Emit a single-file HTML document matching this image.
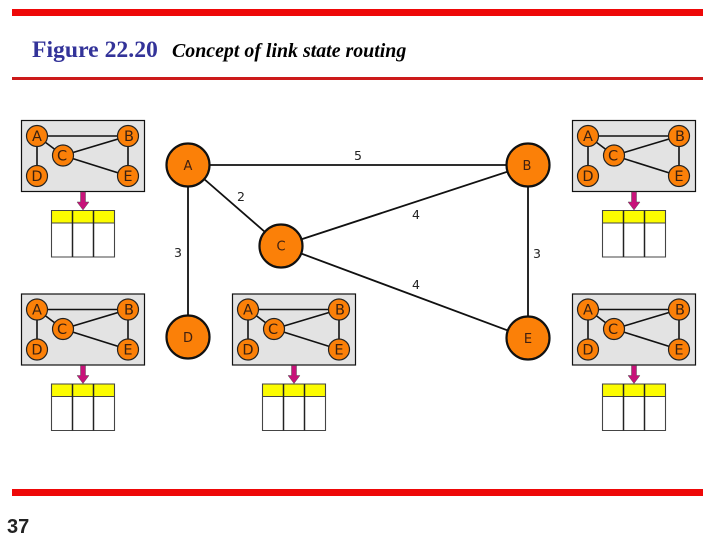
<!DOCTYPE html>
<html>
<head>
<meta charset="utf-8">
<style>
html,body{margin:0;padding:0;background:#fff;width:720px;height:540px;overflow:hidden}
svg{display:block}
.n{fill:#fb8008;stroke:#111;stroke-width:2.2}
.m{fill:#fb8008;stroke:#222;stroke-width:1.2}
.l{stroke:#111;stroke-width:1.8;fill:none}
.ml{stroke:#111;stroke-width:1.6;fill:none}
.t{font-family:"DejaVu Sans","Liberation Sans",sans-serif;text-anchor:middle}
.big{font-size:13px;fill:#402010}
.w{font-size:12.500px;fill:#222}
.s{font-size:14.500px;fill:#3a2010}
</style>
</head>
<body>
<svg width="720" height="540" viewBox="0 0 720 540" xmlns="http://www.w3.org/2000/svg">
<rect x="12" y="9" width="691" height="7" fill="#ee0808"/>
<rect x="12" y="77" width="691" height="3" fill="#cc1a1a"/>
<rect x="12" y="489" width="691" height="7" fill="#ee0808"/>
<text x="32" y="57" font-family="Liberation Serif,serif" font-size="23.700" font-weight="bold" fill="#333399">Figure 22.20</text>
<text x="172" y="57" font-family="Liberation Serif,serif" font-size="19.900" font-weight="bold" font-style="italic" fill="#000">Concept of link state routing</text>
<text x="7" y="533" font-family="Liberation Sans,sans-serif" font-size="20" font-weight="bold" fill="#222">37</text>

<!-- main graph -->
<path class="l" d="M188 165H528M188 165V337M188 165L281 246M281 246L528 165M281 246L528 338M528 165V338"/>
<circle class="n" cx="188" cy="165" r="21.5"/>
<circle class="n" cx="528" cy="165" r="21.5"/>
<circle class="n" cx="281" cy="246" r="21.5"/>
<circle class="n" cx="188" cy="337" r="21.5"/>
<circle class="n" cx="528" cy="338" r="21.5"/>
<text class="t big" x="188" y="170">A</text>
<text class="t big" x="527" y="170">B</text>
<text class="t big" x="281" y="250.500">C</text>
<text class="t big" x="188" y="342">D</text>
<text class="t big" x="528" y="343">E</text>
<text class="t w" x="358" y="160">5</text>
<text class="t w" x="241" y="201">2</text>
<text class="t w" x="416" y="219">4</text>
<text class="t w" x="178" y="257">3</text>
<text class="t w" x="537" y="258">3</text>
<text class="t w" x="416" y="289">4</text>

<!-- mini 1 -->
<g transform="translate(0,0)">
<rect x="21.5" y="120.5" width="123" height="71" fill="#e3e3e3" stroke="#111" stroke-width="1.2"/>
<path class="ml" d="M37 136H128M37 136V176M37 136L63 155.5M63 155.5L128 136M63 155.5L128 176M128 136V176"/>
<circle class="m" cx="37" cy="136" r="10.5"/><circle class="m" cx="128" cy="136" r="10.5"/><circle class="m" cx="63" cy="155.5" r="10.5"/><circle class="m" cx="37" cy="176" r="10.5"/><circle class="m" cx="128" cy="176" r="10.5"/>
<text class="t s" x="37" y="141">A</text><text class="t s" x="129" y="141">B</text><text class="t s" x="62" y="160.500">C</text><text class="t s" x="37" y="181">D</text><text class="t s" x="128" y="181">E</text>
<path d="M80.500 192H85.500V202H89L83 210L77 202H80.500Z" fill="#c8127a" stroke="#555" stroke-width=".5"/>
<rect x="51.500" y="210.500" width="63" height="12.500" fill="#fcfc00"/>
<path d="M51.500 223H114.500M51.500 210.500H114.500V257H51.500Z" fill="none" stroke="#444" stroke-width="1.100"/>
<path d="M72.500 210.500V257M93.500 210.500V257" stroke="#222" stroke-width="1.500"/>
</g>
<!-- mini 2 -->
<g transform="translate(551,0)">
<rect x="21.5" y="120.5" width="123" height="71" fill="#e3e3e3" stroke="#111" stroke-width="1.2"/>
<path class="ml" d="M37 136H128M37 136V176M37 136L63 155.5M63 155.5L128 136M63 155.5L128 176M128 136V176"/>
<circle class="m" cx="37" cy="136" r="10.5"/><circle class="m" cx="128" cy="136" r="10.5"/><circle class="m" cx="63" cy="155.5" r="10.5"/><circle class="m" cx="37" cy="176" r="10.5"/><circle class="m" cx="128" cy="176" r="10.5"/>
<text class="t s" x="37" y="141">A</text><text class="t s" x="129" y="141">B</text><text class="t s" x="62" y="160.500">C</text><text class="t s" x="37" y="181">D</text><text class="t s" x="128" y="181">E</text>
<path d="M80.500 192H85.500V202H89L83 210L77 202H80.500Z" fill="#c8127a" stroke="#555" stroke-width=".5"/>
<rect x="51.500" y="210.500" width="63" height="12.500" fill="#fcfc00"/>
<path d="M51.500 223H114.500M51.500 210.500H114.500V257H51.500Z" fill="none" stroke="#444" stroke-width="1.100"/>
<path d="M72.500 210.500V257M93.500 210.500V257" stroke="#222" stroke-width="1.500"/>
</g>
<!-- mini 3 -->
<g transform="translate(0,173.500)">
<rect x="21.5" y="120.5" width="123" height="71" fill="#e3e3e3" stroke="#111" stroke-width="1.2"/>
<path class="ml" d="M37 136H128M37 136V176M37 136L63 155.5M63 155.5L128 136M63 155.5L128 176M128 136V176"/>
<circle class="m" cx="37" cy="136" r="10.5"/><circle class="m" cx="128" cy="136" r="10.5"/><circle class="m" cx="63" cy="155.5" r="10.5"/><circle class="m" cx="37" cy="176" r="10.5"/><circle class="m" cx="128" cy="176" r="10.5"/>
<text class="t s" x="37" y="141">A</text><text class="t s" x="129" y="141">B</text><text class="t s" x="62" y="160.500">C</text><text class="t s" x="37" y="181">D</text><text class="t s" x="128" y="181">E</text>
<path d="M80.500 192H85.500V202H89L83 210L77 202H80.500Z" fill="#c8127a" stroke="#555" stroke-width=".5"/>
<rect x="51.500" y="210.500" width="63" height="12.500" fill="#fcfc00"/>
<path d="M51.500 223H114.500M51.500 210.500H114.500V257H51.500Z" fill="none" stroke="#444" stroke-width="1.100"/>
<path d="M72.500 210.500V257M93.500 210.500V257" stroke="#222" stroke-width="1.500"/>
</g>
<!-- mini 4 -->
<g transform="translate(211,173.500)">
<rect x="21.5" y="120.5" width="123" height="71" fill="#e3e3e3" stroke="#111" stroke-width="1.2"/>
<path class="ml" d="M37 136H128M37 136V176M37 136L63 155.5M63 155.5L128 136M63 155.5L128 176M128 136V176"/>
<circle class="m" cx="37" cy="136" r="10.5"/><circle class="m" cx="128" cy="136" r="10.5"/><circle class="m" cx="63" cy="155.5" r="10.5"/><circle class="m" cx="37" cy="176" r="10.5"/><circle class="m" cx="128" cy="176" r="10.5"/>
<text class="t s" x="37" y="141">A</text><text class="t s" x="129" y="141">B</text><text class="t s" x="62" y="160.500">C</text><text class="t s" x="37" y="181">D</text><text class="t s" x="128" y="181">E</text>
<path d="M80.500 192H85.500V202H89L83 210L77 202H80.500Z" fill="#c8127a" stroke="#555" stroke-width=".5"/>
<rect x="51.500" y="210.500" width="63" height="12.500" fill="#fcfc00"/>
<path d="M51.500 223H114.500M51.500 210.500H114.500V257H51.500Z" fill="none" stroke="#444" stroke-width="1.100"/>
<path d="M72.500 210.500V257M93.500 210.500V257" stroke="#222" stroke-width="1.500"/>
</g>
<!-- mini 5 -->
<g transform="translate(551,173.500)">
<rect x="21.5" y="120.5" width="123" height="71" fill="#e3e3e3" stroke="#111" stroke-width="1.2"/>
<path class="ml" d="M37 136H128M37 136V176M37 136L63 155.5M63 155.5L128 136M63 155.5L128 176M128 136V176"/>
<circle class="m" cx="37" cy="136" r="10.5"/><circle class="m" cx="128" cy="136" r="10.5"/><circle class="m" cx="63" cy="155.5" r="10.5"/><circle class="m" cx="37" cy="176" r="10.5"/><circle class="m" cx="128" cy="176" r="10.5"/>
<text class="t s" x="37" y="141">A</text><text class="t s" x="129" y="141">B</text><text class="t s" x="62" y="160.500">C</text><text class="t s" x="37" y="181">D</text><text class="t s" x="128" y="181">E</text>
<path d="M80.500 192H85.500V202H89L83 210L77 202H80.500Z" fill="#c8127a" stroke="#555" stroke-width=".5"/>
<rect x="51.500" y="210.500" width="63" height="12.500" fill="#fcfc00"/>
<path d="M51.500 223H114.500M51.500 210.500H114.500V257H51.500Z" fill="none" stroke="#444" stroke-width="1.100"/>
<path d="M72.500 210.500V257M93.500 210.500V257" stroke="#222" stroke-width="1.500"/>
</g>
</svg>
</body>
</html>
